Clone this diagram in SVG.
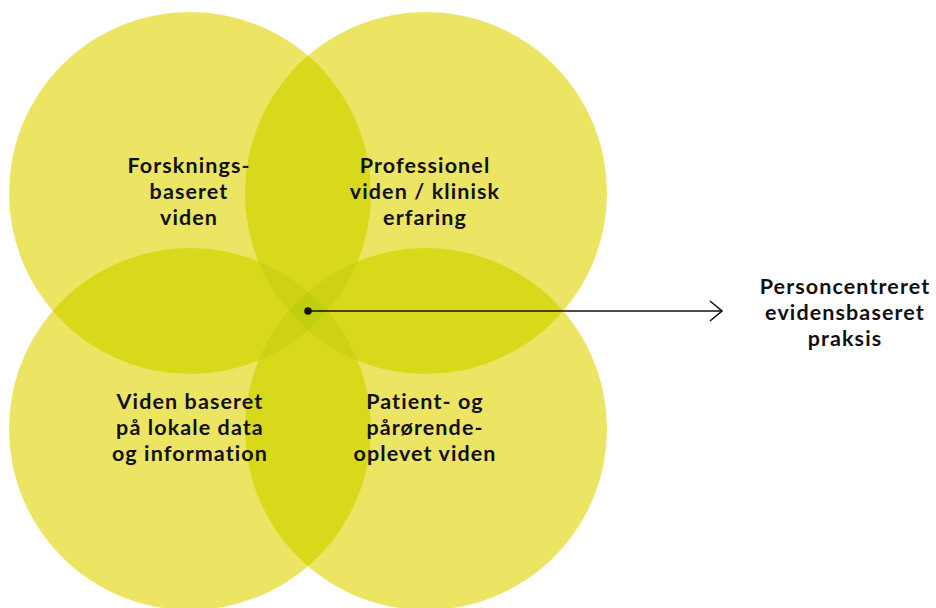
<svg xmlns="http://www.w3.org/2000/svg" width="936" height="608" viewBox="0 0 936 608">
<style>
.c{fill:#ece564}
.p2{fill:#d9d91c}
.p3{fill:#cdd314}
.p4{fill:#bfcf10}
text{font-family:Lato,"Open Sans","Liberation Sans",sans-serif;font-weight:bold;font-size:21.5px;letter-spacing:1.1px;fill:#111;text-anchor:middle}
.conn{stroke:#111;stroke-width:1.6;fill:none}
</style>
<defs>
<circle id="A" cx="190" cy="193" r="181"/>
<circle id="B" cx="426" cy="193" r="181"/>
<circle id="C" cx="190" cy="429" r="181"/>
<circle id="D" cx="426" cy="429" r="181"/>
<clipPath id="kA"><use href="#A"/></clipPath>
<clipPath id="kB"><use href="#B"/></clipPath>
<clipPath id="kC"><use href="#C"/></clipPath>
<clipPath id="kD"><use href="#D"/></clipPath>
<marker id="arr" markerWidth="16" markerHeight="24" refX="14" refY="12" orient="auto" markerUnits="userSpaceOnUse">
<path d="M2,2 L14,12 L2,22" class="conn"/>
</marker>
</defs>
<g id="node-forskning"><use href="#A" class="c"/></g>
<g id="node-professionel"><use href="#B" class="c"/></g>
<g id="node-lokale"><use href="#C" class="c"/></g>
<g id="node-patient"><use href="#D" class="c"/></g>
<g id="overlaps">
<use href="#B" class="p2" clip-path="url(#kA)"/>
<use href="#C" class="p2" clip-path="url(#kA)"/>
<use href="#D" class="p2" clip-path="url(#kA)"/>
<use href="#C" class="p2" clip-path="url(#kB)"/>
<use href="#D" class="p2" clip-path="url(#kB)"/>
<use href="#D" class="p2" clip-path="url(#kC)"/>
<g clip-path="url(#kA)"><use href="#C" class="p3" clip-path="url(#kB)"/></g>
<g clip-path="url(#kA)"><use href="#D" class="p3" clip-path="url(#kB)"/></g>
<g clip-path="url(#kA)"><use href="#D" class="p3" clip-path="url(#kC)"/></g>
<g clip-path="url(#kB)"><use href="#D" class="p3" clip-path="url(#kC)"/></g>
<g clip-path="url(#kA)"><g clip-path="url(#kB)"><use href="#D" class="p4" clip-path="url(#kC)"/></g></g>
</g>
<g id="labels">
<text x="189" y="173">Forsknings-</text>
<text x="189" y="199">baseret</text>
<text x="189" y="225">viden</text>
<text x="425" y="173">Professionel</text>
<text x="425" y="199">viden / klinisk</text>
<text x="425" y="225">erfaring</text>
<text x="190" y="409">Viden baseret</text>
<text x="190" y="435">på lokale data</text>
<text x="190" y="461">og information</text>
<text x="425" y="409">Patient- og</text>
<text x="425" y="435">pårørende-</text>
<text x="425" y="461">oplevet viden</text>
</g>
<g id="connectors">
<circle cx="308" cy="311" r="3.8" fill="#111"/>
<line x1="308" y1="311" x2="722" y2="311" class="conn" marker-end="url(#arr)"/>
</g>
<g id="node-result">
<text x="845" y="294">Personcentreret</text>
<text x="845" y="320">evidensbaseret</text>
<text x="845" y="346">praksis</text>
</g>
</svg>
